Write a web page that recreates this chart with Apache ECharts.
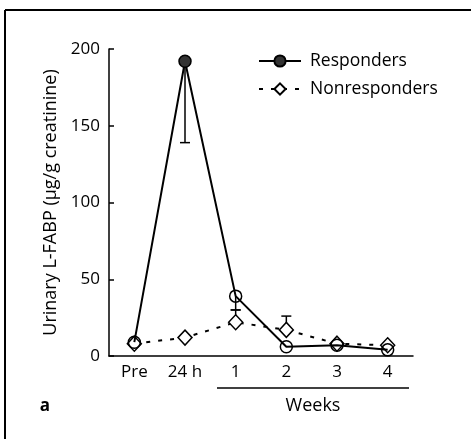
<!DOCTYPE html>
<html><head><meta charset="utf-8">
<script src="https://cdn.jsdelivr.net/npm/echarts@6/dist/echarts.min.js"></script>
<style>html,body{margin:0;padding:0;background:#fff}#c{width:471px;height:439px}</style>
</head><body><div id="c"></div>
<script>
const categories = ['Pre', '24 h', '1', '2', '3', '4'];
const responders = [9, 192, 39, 6, 7, 4];
const nonresponders = [8, 12, 22, 17, 8, 7];
// error bar end values (null = none)
const respErrLow = [null, 139, 30, null, null, null];
const nonErrHigh = [null, null, 30, 26, null, null];
const yTicks = [0, 50, 100, 150, 200];

const FONT = '"Open Sans", "Liberation Sans", sans-serif';
const chart = echarts.init(document.getElementById('c'), null, {renderer: 'canvas'});

function errSeries(base, ends) {
  return {
    type: 'custom',
    silent: true,
    z: 1,
    data: ends.map((e, i) => [i, base[i], e]).filter(d => d[2] !== null),
    renderItem: function (params, api) {
      const p0 = api.coord([api.value(0), api.value(1)]);
      const p1 = api.coord([api.value(0), api.value(2)]);
      const w = 5;
      return {
        type: 'group',
        children: [
          {type: 'line', shape: {x1: p0[0], y1: p0[1], x2: p1[0], y2: p1[1]}, style: {stroke: '#000', lineWidth: 1.5}},
          {type: 'line', shape: {x1: p1[0] - w, y1: p1[1], x2: p1[0] + w, y2: p1[1]}, style: {stroke: '#000', lineWidth: 1.5}}
        ]
      };
    }
  };
}

chart.setOption({
  animation: false,
  textStyle: {fontFamily: FONT},
  grid: {left: 109, right: 58, top: 49, bottom: 83},
  legend: {
    left: 253, top: 47, orient: 'vertical', itemGap: 10,
    itemWidth: 42, itemHeight: 14,
    textStyle: {fontSize: 17.5, color: '#000', fontFamily: FONT, padding: [0, 0, 0, 4]},
    data: ['Responders', 'Nonresponders']
  },
  xAxis: {
    type: 'category', data: categories, boundaryGap: true,
    axisLine: {lineStyle: {color: '#000', width: 1.5}},
    axisTick: {inside: true, length: 6, lineStyle: {color: '#000', width: 1.5}},
    axisLabel: {fontSize: 17, color: '#000', margin: 8, fontFamily: FONT},
    splitLine: {show: false}
  },
  yAxis: {
    type: 'value', min: yTicks[0], max: yTicks[yTicks.length - 1], interval: 50,
    name: 'Urinary L-FABP (µg/g creatinine)', nameLocation: 'middle', nameGap: 48,
    nameTextStyle: {fontSize: 18, color: '#000', fontFamily: FONT},
    axisLine: {show: true, lineStyle: {color: '#000', width: 1.5}},
    axisTick: {show: true, inside: true, length: 5, lineStyle: {color: '#000', width: 1.5}},
    axisLabel: {fontSize: 17, color: '#000', margin: 9, fontFamily: FONT},
    splitLine: {show: false}
  },
  series: [
    errSeries(responders, respErrLow),
    errSeries(nonresponders, nonErrHigh),
    {
      name: 'Nonresponders', type: 'line', z: 2,
      data: nonresponders,
      symbol: 'diamond', symbolSize: [14, 15],
      itemStyle: {color: '#fff', borderColor: '#000', borderWidth: 1.5},
      lineStyle: {color: '#000', width: 2, type: [4, 8]}
    },
    {
      name: 'Responders', type: 'line', z: 3,
      data: responders.map((v, i) => ({value: v, itemStyle: {color: i === 1 ? '#333' : 'rgba(255,255,255,0)'}})),
      symbol: 'circle', symbolSize: 12,
      itemStyle: {color: '#333', borderColor: '#000', borderWidth: 1.5},
      lineStyle: {color: '#000', width: 2}
    }
  ],
  graphic: [
    {type: 'line', shape: {x1: 5, y1: 10, x2: 5, y2: 439}, style: {stroke: '#000', lineWidth: 2}},
    {type: 'line', shape: {x1: 5, y1: 10, x2: 471, y2: 10}, style: {stroke: '#000', lineWidth: 2}},
    {type: 'line', shape: {x1: 217, y1: 388, x2: 409, y2: 388}, style: {stroke: '#000', lineWidth: 1.5}},
    {type: 'text', x: 313, y: 406, style: {text: 'Weeks', font: '18px ' + FONT, fill: '#000', textAlign: 'center', textVerticalAlign: 'middle'}},
    {type: 'text', x: 45, y: 406, style: {text: 'a', font: 'bold 17px ' + FONT, fill: '#000', textAlign: 'center', textVerticalAlign: 'middle'}}
  ]
});
</script>
</body></html>
